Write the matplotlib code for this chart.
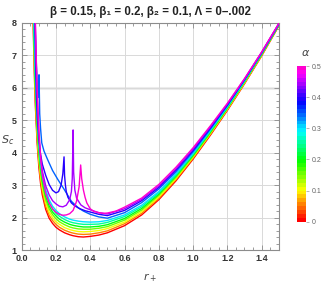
import numpy as np
import matplotlib
matplotlib.use("Agg")
import matplotlib.pyplot as plt
from matplotlib.colors import ListedColormap, Normalize
from matplotlib.ticker import MultipleLocator

plt.rcParams['font.family'] = ['Liberation Sans', 'DejaVu Sans']
plt.rcParams['mathtext.fontset'] = 'dejavusans'

# shared r+ grid for the smooth curves (alpha = 0 ... 0.3)
R_GRID = [0.066, 0.07, 0.075, 0.08, 0.09, 0.10, 0.11, 0.12, 0.14, 0.16, 0.18, 0.20,
          0.22, 0.25, 0.28, 0.30, 0.33, 0.36, 0.40, 0.45, 0.50, 0.60, 0.70, 0.80,
          0.90, 1.00, 1.10, 1.20, 1.30, 1.40, 1.50]

S_A000 = [8.2, 7.2, 6.2, 5.4, 4.3, 3.55, 3.05, 2.7, 2.25, 1.98, 1.82, 1.70, 1.62, 1.53,
          1.47, 1.44, 1.41, 1.40, 1.42, 1.46, 1.53, 1.75, 2.08, 2.55, 3.13, 3.8, 4.53,
          5.3, 6.12, 6.98, 7.9]
S_A005 = [8.42, 7.43, 6.4, 5.58, 4.45, 3.68, 3.17, 2.81, 2.35, 2.07, 1.91, 1.79, 1.70,
          1.61, 1.55, 1.52, 1.49, 1.48, 1.49, 1.53, 1.59, 1.81, 2.13, 2.59, 3.17, 3.83,
          4.56, 5.32, 6.14, 6.99, 7.91]
S_A010 = [8.63, 7.67, 6.6, 5.77, 4.6, 3.82, 3.28, 2.92, 2.45, 2.17, 2.0, 1.87, 1.79,
          1.69, 1.63, 1.60, 1.57, 1.56, 1.57, 1.60, 1.66, 1.86, 2.18, 2.63, 3.2, 3.86,
          4.58, 5.34, 6.15, 7.01, 7.92]
S_A015 = [8.85, 7.9, 6.8, 5.95, 4.75, 3.95, 3.4, 3.03, 2.55, 2.27, 2.09, 1.96, 1.87,
          1.78, 1.71, 1.68, 1.65, 1.64, 1.64, 1.67, 1.72, 1.92, 2.23, 2.68, 3.24, 3.89,
          4.6, 5.36, 6.17, 7.02, 7.93]
S_A020 = [9.07, 8.13, 7.0, 6.13, 4.9, 4.08, 3.52, 3.13, 2.65, 2.36, 2.17, 2.05, 1.95,
          1.86, 1.79, 1.76, 1.73, 1.71, 1.71, 1.73, 1.78, 1.97, 2.28, 2.72, 3.28, 3.92,
          4.63, 5.38, 6.19, 7.03, 7.93]
S_A025 = [9.28, 8.37, 7.2, 6.32, 5.05, 4.22, 3.63, 3.24, 2.75, 2.46, 2.26, 2.13, 2.04,
          1.94, 1.87, 1.84, 1.81, 1.79, 1.79, 1.80, 1.85, 2.03, 2.33, 2.76, 3.31, 3.95,
          4.66, 5.4, 6.2, 7.05, 7.94]
S_A030 = [9.5, 8.6, 7.4, 6.5, 5.2, 4.35, 3.75, 3.35, 2.85, 2.55, 2.35, 2.22, 2.12,
          2.02, 1.95, 1.92, 1.89, 1.87, 1.86, 1.87, 1.91, 2.08, 2.38, 2.8, 3.35, 3.98,
          4.68, 5.42, 6.22, 7.06, 7.95]

# curves with a pole (spike)
R_A035 = [0.070, 0.075, 0.080, 0.085, 0.090, 0.095, 0.099, 0.101, 0.105, 0.110, 0.117,
          0.130, 0.150, 0.180, 0.210, 0.250, 0.290, 0.330, 0.360, 0.400, 0.450, 0.500,
          0.600, 0.700, 0.800, 0.900, 1.000, 1.100, 1.200, 1.300, 1.400, 1.500]
S_A035 = [9.6, 8.6, 7.6, 6.8, 6.1, 5.7, 5.9, 6.4, 5.2, 4.75, 4.3, 4.05, 3.8, 3.45, 3.18,
          2.85, 2.5, 2.3, 2.2, 2.1, 2.02, 1.98, 2.15, 2.46, 2.88, 3.41, 4.03, 4.72, 5.45,
          6.24, 7.07, 7.96]

R_A040 = [0.075, 0.080, 0.085, 0.090, 0.100, 0.110, 0.120, 0.140, 0.160, 0.180, 0.200,
          0.215, 0.230, 0.240, 0.247, 0.250, 0.255, 0.260, 0.270, 0.290, 0.310, 0.340,
          0.370, 0.400, 0.450, 0.500, 0.600, 0.700, 0.800, 0.900, 1.000, 1.100, 1.200,
          1.300, 1.400, 1.500]
S_A040 = [9.2, 7.0, 5.9, 5.2, 4.4, 3.95, 3.65, 3.3, 3.02, 2.84, 2.76, 2.8, 3.0, 3.35,
          3.87, 3.3, 3.0, 2.8, 2.62, 2.45, 2.36, 2.27, 2.21, 2.17, 2.1, 2.06, 2.22, 2.52,
          2.93, 3.46, 4.07, 4.75, 5.47, 6.25, 7.08, 7.96]

R_A045 = [0.075, 0.080, 0.085, 0.090, 0.100, 0.110, 0.120, 0.140, 0.160, 0.180, 0.200,
          0.220, 0.240, 0.260, 0.280, 0.290, 0.295, 0.300, 0.303, 0.310, 0.320, 0.345,
          0.370, 0.400, 0.450, 0.500, 0.600, 0.700, 0.800, 0.900, 1.000, 1.100, 1.200,
          1.300, 1.400, 1.500]
S_A045 = [9.0, 7.8, 6.7, 5.8, 4.6, 3.9, 3.45, 2.98, 2.7, 2.52, 2.42, 2.35, 2.33, 2.38,
          2.55, 2.8, 3.2, 4.7, 3.4, 2.85, 2.6, 2.39, 2.3, 2.24, 2.15, 2.11, 2.27, 2.56,
          2.97, 3.5, 4.11, 4.79, 5.5, 6.27, 7.09, 7.97]

R_A050 = [0.075, 0.080, 0.085, 0.090, 0.100, 0.110, 0.120, 0.140, 0.160, 0.180, 0.200,
          0.220, 0.240, 0.260, 0.280, 0.300, 0.320, 0.335, 0.344, 0.350, 0.360, 0.370,
          0.380, 0.400, 0.420, 0.450, 0.480, 0.500, 0.550, 0.600, 0.700, 0.800, 0.900,
          1.000, 1.100, 1.200, 1.300, 1.400, 1.500]
S_A050 = [9.3, 8.0, 6.9, 6.0, 4.7, 3.85, 3.3, 2.75, 2.45, 2.27, 2.16, 2.1, 2.07, 2.08,
          2.12, 2.22, 2.5, 2.95, 3.62, 3.2, 2.85, 2.62, 2.45, 2.27, 2.19, 2.15, 2.13,
          2.14, 2.2, 2.32, 2.6, 3.02, 3.55, 4.15, 4.82, 5.52, 6.28, 7.1, 7.98]

ALPHAS = [0.0, 0.05, 0.10, 0.15, 0.20, 0.25, 0.30, 0.35, 0.40, 0.45, 0.50]
CURVES = [(R_GRID, S_A000), (R_GRID, S_A005), (R_GRID, S_A010), (R_GRID, S_A015),
          (R_GRID, S_A020), (R_GRID, S_A025), (R_GRID, S_A030), (R_A035, S_A035),
          (R_A040, S_A040), (R_A045, S_A045), (R_A050, S_A050)]

TITLE = "β = 0.15, β₁ = 0.2, β₂ = 0.1, Λ = 0–.002"
HUE_MAX = 0.875


def alpha_color(a):
    return plt.cm.hsv(a / 0.5 * HUE_MAX)


fig = plt.figure(figsize=(3.27, 2.85), dpi=100)
ax = fig.add_axes([0.0664, 0.1228, 0.786, 0.797])

for a, (r, s) in zip(ALPHAS, CURVES):
    ax.plot(r, s, color=alpha_color(a), lw=1.0, solid_joinstyle='round', zorder=3)

ax.set_xlim(0, 1.5)
ax.set_ylim(1, 8)
ax.xaxis.set_major_locator(MultipleLocator(0.2))
ax.xaxis.set_minor_locator(MultipleLocator(0.05))
ax.yaxis.set_major_locator(MultipleLocator(1))
ax.yaxis.set_minor_locator(MultipleLocator(0.2))
ax.xaxis.set_major_formatter(plt.FuncFormatter(lambda v, p: "%.1f" % v))
ax.grid(True, which='major', color='#d9d9d9', lw=0.7, zorder=0)
ax.axhline(6, color='#ececec', lw=2.2, zorder=0.5)

for sp in ax.spines.values():
    sp.set_color('#8c8c8c')
    sp.set_linewidth(0.8)
ax.tick_params(which='both', direction='in', top=True, right=True, color='#8c8c8c',
               width=0.6, labelsize=6.5, labelcolor='#333333')
ax.tick_params(axis='x', pad=3)
ax.tick_params(axis='y', pad=3.5)
ax.tick_params(which='major', length=3.5)
ax.tick_params(which='minor', length=2)
for lab in ax.get_xticklabels() + ax.get_yticklabels():
    lab.set_fontweight('bold')

fig.text(0.459, 0.958, TITLE, ha='center', va='center', fontsize=8.3,
         fontweight='bold', color='#222222')
fig.text(0.022, 0.51, r"$S_c$", ha='center', va='center', fontsize=8, color='#444444')
fig.text(0.459, 0.025, r"$r_+$", ha='center', va='center', fontsize=8, color='#444444')

# colour legend for alpha
cax = fig.add_axes([0.907, 0.222, 0.0284, 0.546])
cmap = ListedColormap(plt.cm.hsv(np.linspace(0, HUE_MAX, 40)))
cb = fig.colorbar(plt.cm.ScalarMappable(norm=Normalize(0, 0.5), cmap=cmap), cax=cax)
cb.outline.set_visible(False)
cb.set_ticks([0, 0.1, 0.2, 0.3, 0.4, 0.5])
cb.set_ticklabels(["0", "0.1", "0.2", "0.3", "0.4", "0.5"])
cax.tick_params(labelsize=5, labelcolor='#666666', color='#999999', length=2,
                width=0.5, pad=2)
fig.text(0.935, 0.814, r"$\alpha$", ha='center', va='center', fontsize=8,
         color='#444444')

fig.savefig("out.png", dpi=100)
